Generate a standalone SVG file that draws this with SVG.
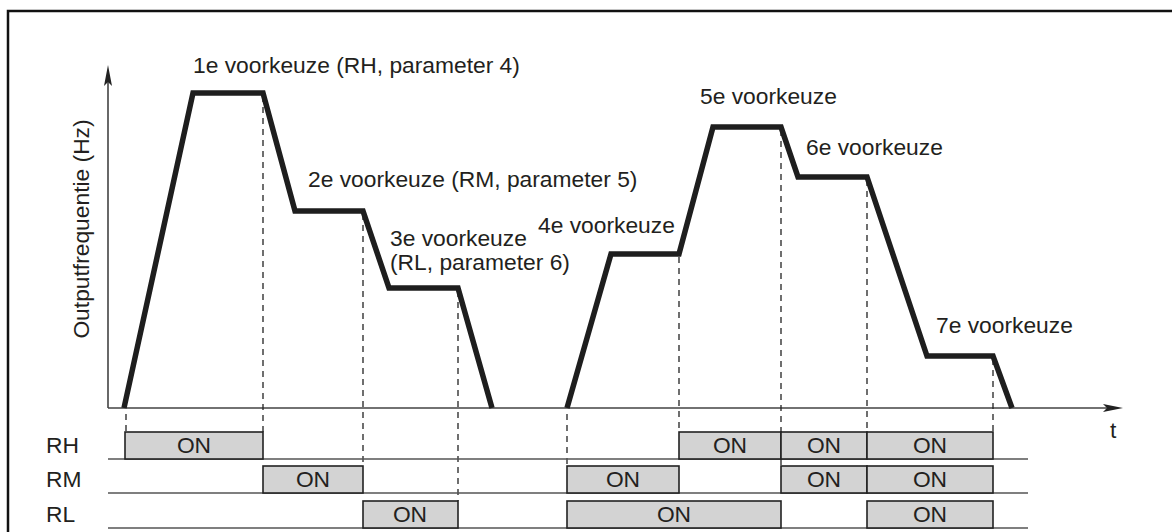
<svg xmlns="http://www.w3.org/2000/svg" width="1172" height="532" viewBox="0 0 1172 532">
<style>
text{font-family:"Liberation Sans",Arial,sans-serif;font-size:22.8px;fill:#231f20}
.on{text-anchor:middle}
.trace{fill:none;stroke:#1e1e1e;stroke-width:5.5;stroke-linejoin:miter}
.axis{stroke:#444;stroke-width:1.6;fill:none}
.row{stroke:#555;stroke-width:1.6}
.dash{stroke:#222;stroke-width:1.3;stroke-dasharray:6 5;fill:none}
.box{fill:#d3d3d3;stroke:#222;stroke-width:1.6}
</style>
<rect width="1172" height="532" fill="#fff"/>
<path d="M8,532 V11 H1172" fill="none" stroke="#111" stroke-width="2.5"/>
<g id="axes">
<path class="axis" d="M108,408 V80 M108,408 H1112"/>
<path d="M108,65 L104,86 L108,82 L112,86 Z" fill="#222"/>
<path d="M1123,408 L1103,404 L1107,408 L1103,412 Z" fill="#222"/>
<text x="1110" y="438">t</text>
<text transform="translate(89,229) rotate(-90)" text-anchor="middle">Outputfrequentie (Hz)</text>
</g>
<g id="connectors">
<path class="dash" d="M126,414 V432 M263,96 V432 M363,214 V466 M458,291 V501 M567,414 V466 M679,257 V432 M781,130 V432 M781,459 V466 M867,180 V432 M993,359 V432"/>
</g>
<g id="trace1">
<polyline class="trace" points="124,408 193,93 263,93 295,211 363,211 389,288 458,288 492,408"/>
</g>
<g id="trace2">
<polyline class="trace" points="567,408 611,254 679,254 713,127 781,127 798,177 867,177 927,356 993,356 1012,408"/>
</g>
<g id="labels">
<text x="193" y="73">1e voorkeuze (RH, parameter 4)</text>
<text x="308" y="187">2e voorkeuze (RM, parameter 5)</text>
<text x="390" y="246">3e voorkeuze</text>
<text x="390" y="270">(RL, parameter 6)</text>
<text x="538" y="233">4e voorkeuze</text>
<text x="700" y="104">5e voorkeuze</text>
<text x="806" y="155">6e voorkeuze</text>
<text x="936" y="333">7e voorkeuze</text>
</g>
<g id="row-RH">
<text x="46" y="453">RH</text>
<line class="row" x1="108" y1="459" x2="1028" y2="459"/>
<rect class="box" x="125" y="432" width="138" height="27"/><text class="on" x="194" y="453">ON</text>
<rect class="box" x="679" y="432" width="102" height="27"/><text class="on" x="730" y="453">ON</text>
<rect class="box" x="781" y="432" width="86" height="27"/><text class="on" x="824" y="453">ON</text>
<rect class="box" x="867" y="432" width="126" height="27"/><text class="on" x="930" y="453">ON</text>
</g>
<g id="row-RM">
<text x="46" y="487">RM</text>
<line class="row" x1="108" y1="493" x2="1028" y2="493"/>
<rect class="box" x="263" y="466" width="100" height="27"/><text class="on" x="313" y="487">ON</text>
<rect class="box" x="567" y="466" width="112" height="27"/><text class="on" x="623" y="487">ON</text>
<rect class="box" x="781" y="466" width="86" height="27"/><text class="on" x="824" y="487">ON</text>
<rect class="box" x="867" y="466" width="126" height="27"/><text class="on" x="930" y="487">ON</text>
</g>
<g id="row-RL">
<text x="46" y="522">RL</text>
<line class="row" x1="108" y1="528" x2="1028" y2="528"/>
<rect class="box" x="363" y="501" width="95" height="27"/><text class="on" x="410" y="522">ON</text>
<rect class="box" x="567" y="501" width="214" height="27"/><text class="on" x="674" y="522">ON</text>
<rect class="box" x="867" y="501" width="126" height="27"/><text class="on" x="930" y="522">ON</text>
</g>
</svg>
